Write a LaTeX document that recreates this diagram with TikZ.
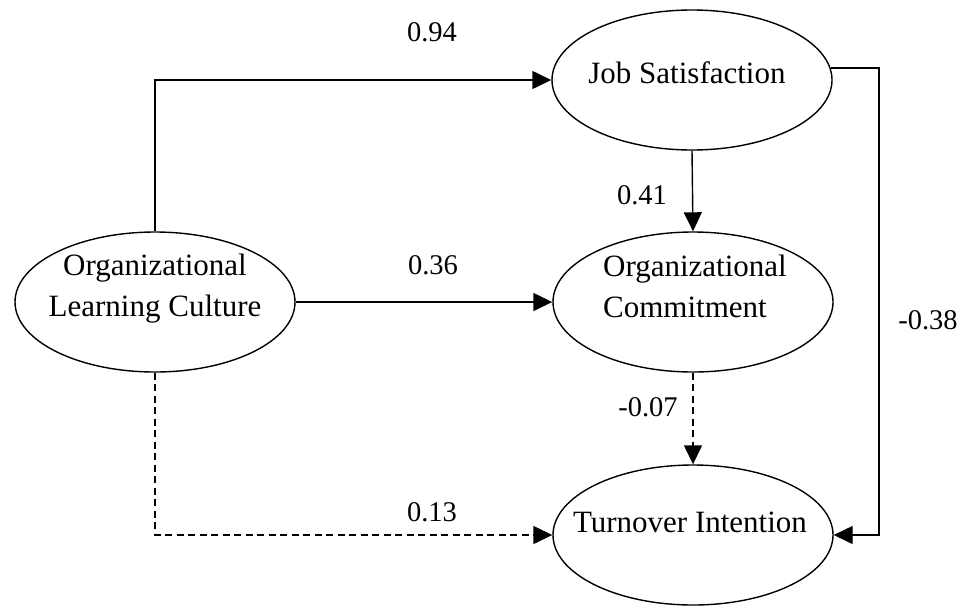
\documentclass[tikz,border=0pt]{standalone}
\usepackage{fontspec}
\setmainfont{Liberation Serif}
\usetikzlibrary{arrows.meta,shapes.geometric}
\begin{document}
\begin{tikzpicture}[x=1pt,y=-1pt,
  latent/.style={draw, ellipse, line width=1.4pt, minimum width=280pt, minimum height=140pt, inner sep=0pt},
  ntext/.style={font=\fontsize{31}{41}\selectfont, inner sep=0pt},
  coef/.style={font=\fontsize{28.5}{34}\selectfont, inner sep=0pt},
  path/.style={line width=1.4pt, -{Triangle[length=19pt,width=18pt]}},
  weak/.style={path, dash pattern=on 7pt off 4.5pt}
]
\useasboundingbox (0,0) rectangle (973,606);
% latent variables
\node[latent] (olc) at (155,302) {};
\node[latent] (js)  at (692,80) {};
\node[latent] (oc)  at (693,302) {};
\node[latent] (ti)  at (693,535) {};
% texts
\node[ntext, align=center] (olct) at (155,289) {Organizational\\Learning Culture};
\node[ntext, anchor=base] (jst) at (687,83) {Job Satisfaction};
\node[ntext, align=left] (oct) at (695,286) {Organizational\\Commitment};
\node[ntext, anchor=base] (tit) at (690,532) {Turnover Intention};
% turning coordinate
\coordinate (rbot) at (879,535);
% paths
\draw[path] (olc.north) |- (js.west);
\draw[path] (olc.east) -- (oc.west);
\draw[weak] (olc.south) |- (ti.west);
\draw[path] (js.south) -- (oc.north);
\draw[weak] (oc.south) -- (ti.north);
\draw[path] (js.5) -| (rbot) -- (ti.east);
% coefficients
\node[coef] (c1) at (432,32) {0.94};
\node[coef] (c2) at (433,265) {0.36};
\node[coef] (c3) at (432,512) {0.13};
\node[coef] (c4) at (642,195) {0.41};
\node[coef] (c5) at (648,407) {-0.07};
\node[coef] (c6) at (928,320) {-0.38};
\end{tikzpicture}
\end{document}
